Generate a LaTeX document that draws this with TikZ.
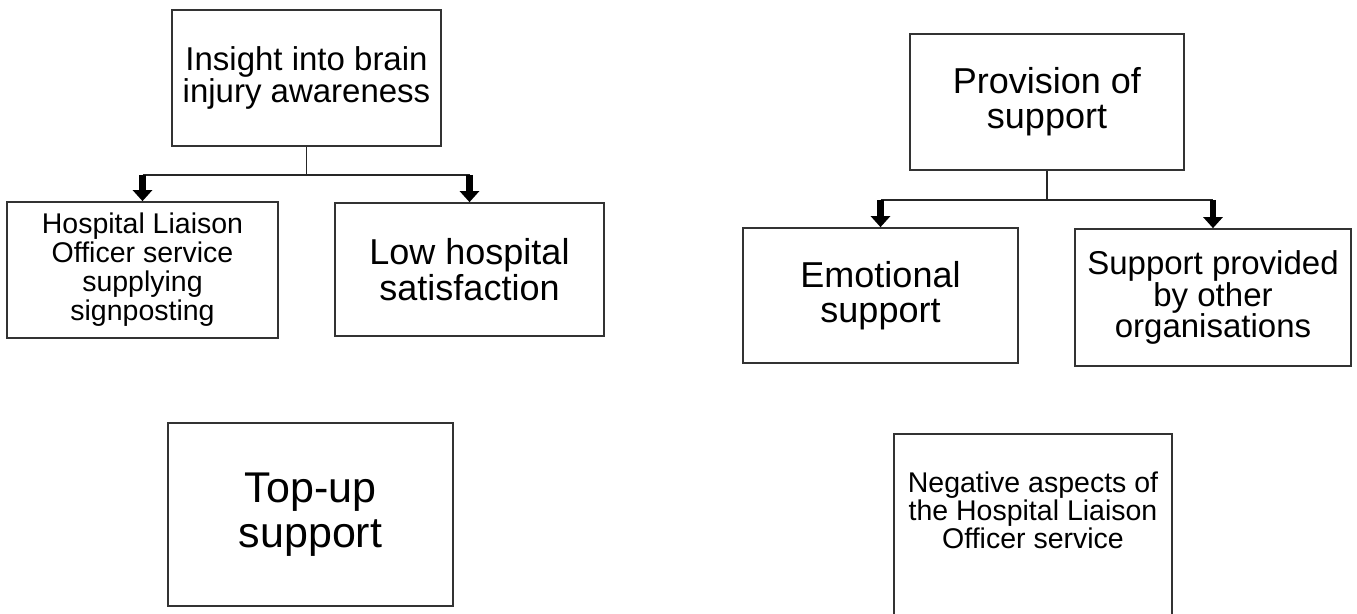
\documentclass[tikz,border=0pt]{standalone}
\usepackage{fontspec}
\setmainfont{Liberation Sans}
\usetikzlibrary{arrows.meta}
\newcommand{\myfs}[2]{\fontsize{#1}{#2}\selectfont}
\tikzset{
  box/.style={draw=black!80, line width=1.7pt, inner sep=0pt, align=center, text=black},
  conn/.style={draw=black!85, line width=1.7pt},
  bigarrow/.style={draw=black, line width=6.5pt, -{Triangle[length=11pt,width=19pt]}},
}
\begin{document}
\begin{tikzpicture}[x=1pt,y=-1pt]
\useasboundingbox (0,0) rectangle (1357,613);
% left tree
\node[box, minimum width=269pt, minimum height=136pt, font=\myfs{33}{31.5}] (b1) at (306.5,78) {Insight into brain\\injury awareness};
\node[box, minimum width=271pt, minimum height=136pt, font=\myfs{28.5}{29}] (b2) at (142.5,270) {Hospital Liaison\\Officer service\\supplying\\signposting};
\node[box, minimum width=269pt, minimum height=133pt, font=\myfs{36}{36}] (b3) at (469.5,269.5) {Low hospital\\satisfaction};
\node[box, minimum width=285pt, minimum height=183pt, font=\myfs{43}{45}] (b4) at (310.5,514.5) {Top-up\\support};
% right tree
\node[box, minimum width=274pt, minimum height=136pt, font=\myfs{36}{35}] (b5) at (1047,102) {Provision of\\support};
\node[box, minimum width=275pt, minimum height=135pt, font=\myfs{36}{35}] (b6) at (880.5,295.5) {Emotional\\support};
\node[box, minimum width=276pt, minimum height=137pt, font=\myfs{33}{31.5}] (b7) at (1213,297.5) {Support provided\\by other\\organisations};
\node[box, anchor=north, minimum width=278pt, inner ysep=38pt, text depth=100pt, font=\myfs{28.5}{28}] (b8) at (1033,433) {Negative aspects of\\the Hospital Liaison\\Officer service};
% connectors left
\draw[conn] (b1.south) -- ++(0,28) coordinate (j1);
\draw[conn] (j1 -| b2.north) -- (j1 -| b3.north);
\draw[bigarrow] (j1 -| b2.north) -- (b2.north);
\draw[bigarrow] (j1 -| b3.north) -- (b3.north);
% connectors right
\draw[conn] (b5.south) -- ++(0,29) coordinate (j2);
\draw[conn] (j2 -| b6.north) -- (j2 -| b7.north);
\draw[bigarrow] (j2 -| b6.north) -- (b6.north);
\draw[bigarrow] (j2 -| b7.north) -- (b7.north);
\end{tikzpicture}
\end{document}
